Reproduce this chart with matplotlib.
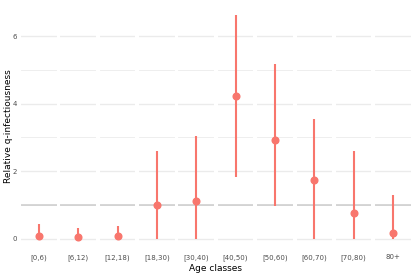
import matplotlib
matplotlib.use("Agg")
import matplotlib.pyplot as plt

# age classes and relative q-infectiousness estimates (point, lower, upper)
ages = ["[0,6)", "[6,12)", "[12,18)", "[18,30)", "[30,40)",
        "[40,50)", "[50,60)", "[60,70)", "[70,80)", "80+"]
est = [0.09, 0.06, 0.07, 1.00, 1.12, 4.22, 2.91, 1.75, 0.76, 0.17]
lower = [0.0, 0.0, 0.0, 0.0, 0.0, 1.83, 0.98, 0.0, 0.0, 0.0]
upper = [0.44, 0.33, 0.38, 2.60, 3.05, 6.63, 5.17, 3.54, 2.60, 1.31]

red = "#F8766D"
grid = "#EBEBEB"

fig = plt.figure(figsize=(4.15, 2.77), dpi=100)
gs = fig.add_gridspec(1, len(ages), left=0.0506, right=0.990,
                      top=0.987, bottom=0.0975, wspace=0.107)

ymin, ymax = -0.33, 6.96
for i, a in enumerate(ages):
    ax = fig.add_subplot(gs[0, i])
    for s in ax.spines.values():
        s.set_visible(False)
    # grid lines
    for y in [0, 2, 4, 6]:
        ax.axhline(y, color=grid, lw=1.0, zorder=0)
    for y in [1, 3, 5]:
        ax.axhline(y, color=grid, lw=0.6, zorder=0)
    ax.axhline(1, color="#CCCCCC", lw=1.1, zorder=1)
    ax.vlines(0, lower[i], upper[i], color=red, lw=1.5, zorder=2)
    ax.plot([0], [est[i]], "o", color=red, ms=4.8, zorder=3)
    ax.set_xlim(-0.6, 0.6)
    ax.set_ylim(ymin, ymax)
    ax.set_xticks([0])
    ax.set_xticklabels([a], fontsize=5, color="#4D4D4D")
    ax.tick_params(length=0, pad=3)
    if i == 0:
        ax.set_yticks([0, 2, 4, 6])
        ax.set_yticklabels(["0", "2", "4", "6"], fontsize=5, color="#4D4D4D")
        ax.tick_params(axis="y", pad=3)
    else:
        ax.set_yticks([])

fig.text(0.02, 0.545, "Relative q-infectiousness", rotation=90,
         ha="center", va="center", fontsize=6.5)
fig.text(0.52, 0.032, "Age classes", ha="center", va="center", fontsize=6.5)

plt.savefig("out.png", dpi=100)
